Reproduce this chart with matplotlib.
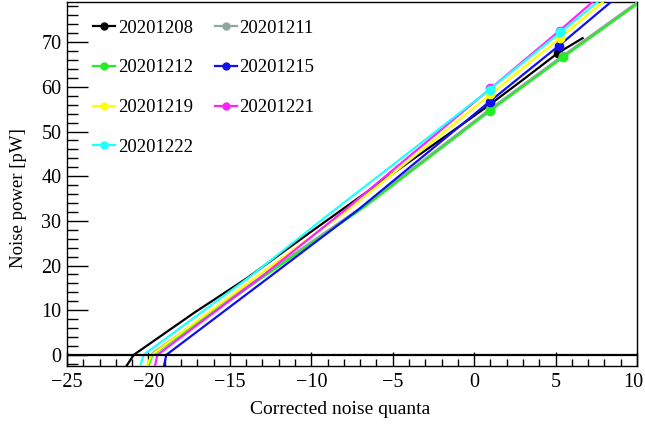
import matplotlib
matplotlib.use("Agg")
import matplotlib.pyplot as plt
from matplotlib.ticker import MultipleLocator, FixedLocator, FixedFormatter

plt.rcParams['font.family'] = ['Liberation Serif', 'DejaVu Serif']

# noise power curves per run date (x: corrected noise quanta, y: power in pW)
labels = ['20201208', '20201211', '20201212', '20201215',
          '20201219', '20201221', '20201222']
colors = ['black', '#8fa89f', '#22ee22', '#1010ee',
          '#ffff00', '#ff22ff', '#22ffff']

x_1208 = [-21.35, -20.9, -17.2, -13.94, -10.0, -5.0, 0.0, 0.95, 3.0, 5.15, 6.66]
y_1208 = [-2.5, 0.0, 9.4, 17.2, 27.6, 40.6, 53.5, 56.0, 61.6, 67.6, 70.9]

x_1211 = [-20.05, -19.75, -12.96, -6.7, 1.0, 5.45, 10.0]
y_1211 = [-2.5, 0.4, 17.8, 33.6, 55.1, 67.0, 78.9]

x_1212 = [-20.0, -19.75, -12.96, -6.7, 1.0, 5.45, 10.0]
y_1212 = [-2.5, 0.0, 17.4, 33.2, 54.7, 66.6, 78.5]

x_1215 = [-19.05, -18.9, -12.65, -7.15, 0.95, 5.2, 8.4]
y_1215 = [-2.5, 0.0, 17.2, 32.4, 56.7, 69.2, 79.0]

x_1219 = [-20.1, -19.8, -13.47, -7.76, 1.0, 5.3, 7.9]
y_1219 = [-2.5, 0.0, 17.2, 32.4, 58.3, 71.0, 79.0]

x_1221 = [-19.6, -19.45, -13.16, -7.94, 1.0, 5.25, 7.27]
y_1221 = [-2.5, 0.0, 17.2, 32.4, 59.6, 72.6, 79.0]

x_1222 = [-20.5, -20.3, -13.73, -8.87, -4.26, 0.95, 5.29, 7.58]
y_1222 = [-2.5, 0.0, 17.6, 31.6, 44.6, 59.4, 72.2, 79.0]

# measured points shown as markers
mx_1208, my_1208 = [0.95, 5.15], [56.0, 67.6]
mx_1211, my_1211 = [1.0, 5.45], [55.0, 66.8]
mx_1212, my_1212 = [1.0, 5.45], [54.7, 66.6]
mx_1215, my_1215 = [0.95, 5.2], [56.7, 69.2]
mx_1219, my_1219 = [1.0, 5.3], [58.4, 71.0]
mx_1221, my_1221 = [1.0, 5.25], [59.8, 72.6]
mx_1222, my_1222 = [0.95, 5.29], [59.4, 72.2]

xticks = [-25, -20, -15, -10, -5, 0, 5, 10]

curves = [(x_1208, y_1208), (x_1211, y_1211), (x_1212, y_1212), (x_1215, y_1215),
          (x_1219, y_1219), (x_1221, y_1221), (x_1222, y_1222)]
marks = [(mx_1208, my_1208), (mx_1211, my_1211), (mx_1212, my_1212), (mx_1215, my_1215),
         (mx_1219, my_1219), (mx_1221, my_1221), (mx_1222, my_1222)]

fig = plt.figure(figsize=(6.45, 4.24), dpi=100)
ax = fig.add_axes([67/645, 58/424, 570/645, 364/424])

handles = []
for i in range(len(labels)):
    cx, cy = curves[i]
    px, py = marks[i]
    ax.plot(cx, cy, color=colors[i], lw=1.6, zorder=2 + i)
    ax.plot(px, py, 'o', color=colors[i], ms=6, zorder=2 + i)
    h, = ax.plot([], [], '-o', color=colors[i], lw=1.6, ms=5, label=labels[i])
    handles.append(h)

ax.axhline(0, color='black', lw=1.6, zorder=20)

ax.set_xlim(-25, 10)
ax.set_ylim(-2.5, 79)
ax.xaxis.set_major_locator(FixedLocator(xticks))
# last label is placed by hand so it stays inside the figure
tick_text = ['\u2212%d' % -v if v < 0 else '%d' % v for v in xticks]
ax.xaxis.set_major_formatter(FixedFormatter(tick_text[:-1] + ['']))
ax.xaxis.set_minor_locator(MultipleLocator(1))
ax.yaxis.set_major_locator(MultipleLocator(10))
ax.yaxis.set_minor_locator(MultipleLocator(2))
ax.tick_params(which='both', direction='in', top=False, right=False, labelsize=14.5, width=1)
ax.tick_params(axis='x', which='major', length=10, pad=5)
ax.tick_params(axis='x', which='minor', length=5)
ax.tick_params(axis='y', which='major', length=15, pad=4)
ax.tick_params(axis='y', which='minor', length=8)
for s in ax.spines.values():
    s.set_linewidth(1)

ax.annotate(tick_text[-1], xy=(xticks[-1], 0), xycoords=('data', 'axes fraction'),
            xytext=(-2.5, -5), textcoords='offset points',
            ha='center', va='top', fontsize=14.5)

ax.set_xlabel('Corrected noise quanta', fontsize=14)
ax.set_ylabel('Noise power [pW]', fontsize=13.5)
ax.xaxis.set_label_coords(0.48, -0.095)
ax.yaxis.set_label_coords(-0.07, 0.46)

# fill legend row by row: two columns
order = [0, 2, 4, 6, 1, 3, 5]
ax.legend([handles[k] for k in order], [labels[k] for k in order],
          loc='upper left', bbox_to_anchor=(0.033, 0.972), ncol=2, frameon=False,
          fontsize=13.5, handlelength=1.15, handletextpad=0.15, columnspacing=1.2,
          labelspacing=1.2, borderaxespad=0)

fig.savefig('out.png', dpi=100)
